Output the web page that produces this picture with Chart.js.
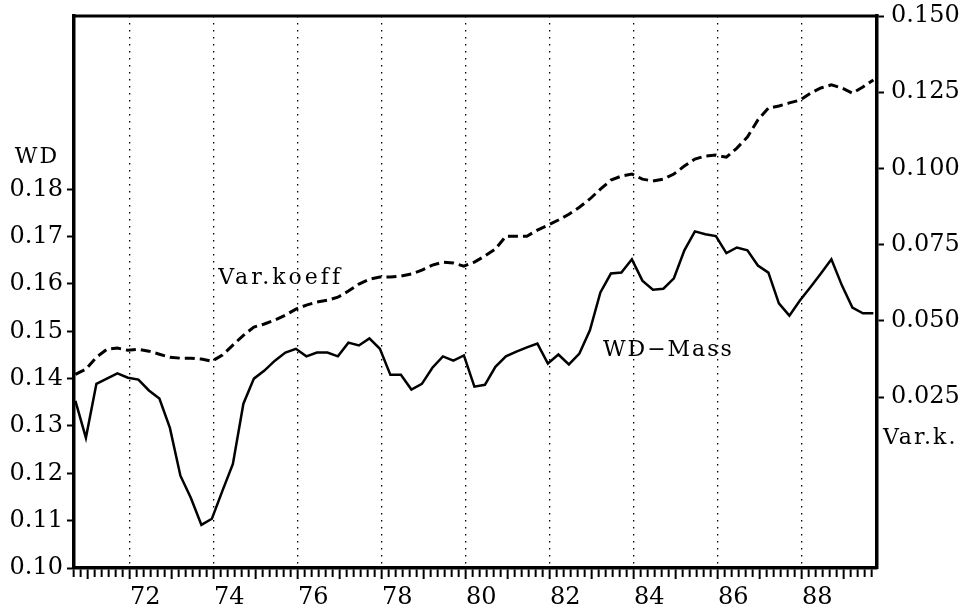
<!DOCTYPE html>
<html>
<head>
<meta charset="utf-8">
<script src="https://cdn.jsdelivr.net/npm/chart.js@4"></script>
<style>
  html, body { margin: 0; padding: 0; background: #fff; }
  canvas { display: block; }
</style>
</head>
<body>
<canvas id="chart" width="974" height="609"></canvas>
<script>
// quarterly observations, first one just after Sept 1970
const quarterStart = 70.70;

// WD-Mass (left axis)
const wdMass = [
    0.1353, 0.1275, 0.1389, 0.1400, 0.1411, 0.1402, 0.1398, 0.1375, 0.1358, 0.1296,
    0.1195, 0.1148, 0.1091, 0.1104, 0.1163, 0.1220, 0.1347, 0.1400, 0.1417, 0.1438,
    0.1455, 0.1463, 0.1447, 0.1455, 0.1455, 0.1447, 0.1476, 0.1470, 0.1485, 0.1463,
    0.1408, 0.1408, 0.1377, 0.1389, 0.1423, 0.1447, 0.1438, 0.1449, 0.1383, 0.1387,
    0.1425, 0.1447, 0.1457, 0.1466, 0.1474, 0.1432, 0.1451, 0.1430, 0.1453, 0.1502,
    0.1582, 0.1622, 0.1624, 0.1652, 0.1607, 0.1588, 0.1590, 0.1612, 0.1671, 0.1711,
    0.1705, 0.1701, 0.1665, 0.1677, 0.1671, 0.1639, 0.1624, 0.1559, 0.1533, 0.1565,
    0.1593, 0.1622, 0.1652, 0.1597, 0.1550, 0.1538, 0.1538
];

// Var.koeff (right axis)
const varKoeff = [
    0.0325, 0.0342, 0.0381, 0.0407, 0.0411, 0.0404, 0.0407, 0.0401, 0.0391, 0.0381,
    0.0378, 0.0378, 0.0375, 0.0368, 0.0388, 0.0421, 0.0453, 0.0480, 0.0490, 0.0503,
    0.0519, 0.0539, 0.0552, 0.0562, 0.0568, 0.0578, 0.0598, 0.0621, 0.0637, 0.0644,
    0.0644, 0.0647, 0.0654, 0.0667, 0.0683, 0.0693, 0.0690, 0.0680, 0.0693, 0.0713,
    0.0736, 0.0778, 0.0778, 0.0778, 0.0798, 0.0814, 0.0831, 0.0850, 0.0873, 0.0900,
    0.0932, 0.0962, 0.0975, 0.0982, 0.0965, 0.0959, 0.0965, 0.0982, 0.1008, 0.1031,
    0.1041, 0.1044, 0.1037, 0.1067, 0.1103, 0.1159, 0.1198, 0.1205, 0.1215, 0.1224,
    0.1247, 0.1264, 0.1274, 0.1264, 0.1247, 0.1267, 0.1290
];

const leftTicks = [0.10, 0.11, 0.12, 0.13, 0.14, 0.15, 0.16, 0.17, 0.18];
const rightTicks = [0.025, 0.050, 0.075, 0.100, 0.125, 0.150];

// x axis runs Sept 1970 .. Oct 1989, ticks every two months (month index = year*12)
const firstTickMonth = 848;
const lastTickMonth = 1076;
const xMin = 848 / 12;
const xMax = 89.786;

const FONT = '"DejaVu Serif", "Liberation Serif", serif';
const BLACK = '#000';

const quarters = wdMass.map((_, i) => quarterStart + i * 0.25);
const xTickMonths = [];
for (let m = firstTickMonth; m <= lastTickMonth; m += 2) xTickMonths.push(m);

function tickMonth(ctx) {
    return ctx.tick ? Math.round(ctx.tick.value * 12) : 1;
}

// y scales: no extra room for half labels, the frame is fixed
function fixY(width) {
    return (scale) => {
        scale.width = width;
        scale.paddingTop = 0;
        scale.paddingBottom = 0;
    };
}

// frame top line + free text labels
const annotate = {
    id: 'annotate',
    afterDraw(chart) {
        const { ctx, chartArea } = chart;
        const { x, y, y1 } = chart.scales;
        ctx.save();
        ctx.strokeStyle = BLACK;
        ctx.lineWidth = 3;
        ctx.beginPath();
        ctx.moveTo(chartArea.left - 1.5, chartArea.top);
        ctx.lineTo(chartArea.right + 1.5, chartArea.top);
        ctx.stroke();

        ctx.fillStyle = BLACK;
        ctx.textBaseline = 'middle';
        ctx.font = '22px ' + FONT;
        ctx.letterSpacing = '2px';

        ctx.textAlign = 'center';
        ctx.fillText('WD', chartArea.left - 37, y.getPixelForValue(0.18) - 32);

        ctx.textAlign = 'left';
        ctx.fillText('Var.k.', chartArea.right + 6, y1.getPixelForValue(0.025) + 41);

        ctx.letterSpacing = '3px';
        ctx.fillText('Var.koeff', x.getPixelForValue(74.10), y1.getPixelForValue(0.064));
        ctx.letterSpacing = '2px';
        ctx.fillText('WD\u2212Mass', x.getPixelForValue(83.26), y.getPixelForValue(0.1459));
        ctx.restore();
    }
};

new Chart(document.getElementById('chart').getContext('2d'), {
    type: 'line',
    data: {
        datasets: [{
            label: 'WD-Mass',
            data: quarters.map((q, i) => ({ x: q, y: wdMass[i] })),
            yAxisID: 'y',
            borderColor: BLACK,
            borderWidth: 2.5,
            tension: 0,
            pointRadius: 0,
            fill: false
        }, {
            label: 'Var.koeff',
            data: quarters.map((q, i) => ({ x: q, y: varKoeff[i] })),
            yAxisID: 'y1',
            borderColor: BLACK,
            borderWidth: 3,
            borderDash: [10, 5],
            tension: 0,
            pointRadius: 0,
            fill: false
        }]
    },
    options: {
        responsive: false,
        animation: false,
        layout: { padding: { top: 16, left: 0, right: 0, bottom: 0 } },
        plugins: {
            legend: { display: false },
            tooltip: { enabled: false }
        },
        scales: {
            x: {
                type: 'linear',
                min: xMin,
                max: xMax,
                afterBuildTicks: (scale) => {
                    scale.ticks = xTickMonths.map(m => ({ value: m / 12 }));
                },
                afterFit: (scale) => { scale.height = 41; },
                grid: {
                    color: (ctx) => tickMonth(ctx) % 24 === 0 ? BLACK : 'rgba(0,0,0,0)',
                    lineWidth: 1.3,
                    tickLength: 11,
                    tickWidth: 2,
                    tickColor: BLACK,
                    tickBorderDash: (ctx) => {
                        const m = tickMonth(ctx);
                        if (m % 24 === 0) return [];
                        if (m % 12 === 0) return [10, 40];
                        return [7.5, 40];
                    }
                },
                border: { color: BLACK, width: 3.5, dash: [1.5, 5.5] },
                ticks: {
                    autoSkip: false,
                    maxRotation: 0,
                    align: 'start',
                    padding: 4,
                    color: BLACK,
                    font: { family: FONT, size: 24 },
                    callback: (value) => {
                        const m = Math.round(value * 12);
                        return m % 24 === 0 ? String(m / 12) : '';
                    }
                }
            },
            y: {
                position: 'left',
                min: 0.10,
                max: 0.2166,
                afterBuildTicks: (scale) => {
                    scale.ticks = leftTicks.map(v => ({ value: v }));
                },
                afterFit: fixY(74),
                grid: {
                    drawOnChartArea: false,
                    color: BLACK,
                    tickLength: 7,
                    tickWidth: 2
                },
                border: { color: BLACK, width: 3.5 },
                ticks: {
                    padding: 4,
                    color: BLACK,
                    font: { family: FONT, size: 24 },
                    callback: (value) => value.toFixed(2)
                }
            },
            y1: {
                position: 'right',
                min: -0.031,
                max: 0.150,
                afterBuildTicks: (scale) => {
                    scale.ticks = rightTicks.map(v => ({ value: v }));
                },
                afterFit: fixY(97),
                grid: {
                    drawOnChartArea: false,
                    color: BLACK,
                    tickLength: 7,
                    tickWidth: 2
                },
                border: { color: BLACK, width: 3.5 },
                ticks: {
                    padding: 7,
                    color: BLACK,
                    font: { family: FONT, size: 24 },
                    callback: (value) => value.toFixed(3)
                }
            }
        }
    },
    plugins: [annotate]
});
</script>
</body>
</html>
